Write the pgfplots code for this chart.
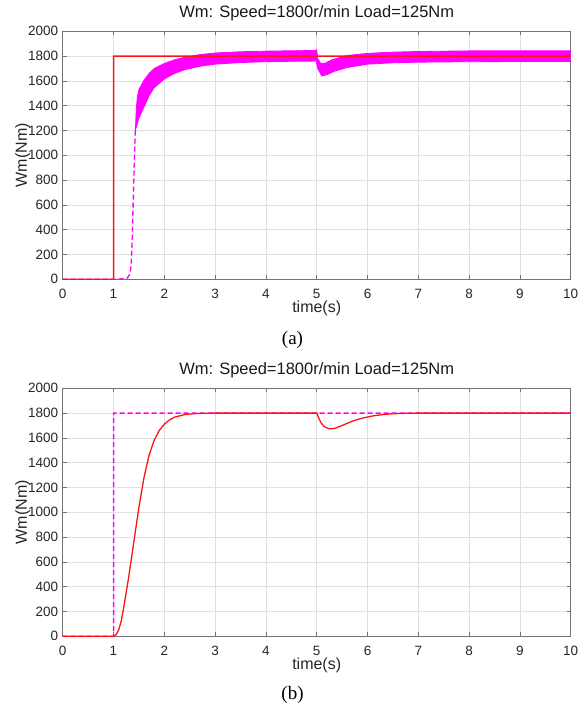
\documentclass[border=0pt]{standalone}
\usepackage{fontspec}
\setmainfont{Liberation Sans}
\newfontfamily\capfont{Liberation Serif}
\usepackage{pgfplots}
\pgfplotsset{compat=1.18}

\definecolor{mred}{RGB}{255,20,20}
\definecolor{mmag}{RGB}{255,0,255}

\pgfplotsset{
  matlab/.style={
    scale only axis,
    width=508pt, height=248pt,
    xmin=0, xmax=10, ymin=0, ymax=2000,
    xtick={0,1,...,10}, ytick={0,200,...,2000},
    grid=major, major grid style={black!12, line width=0.6pt},
    axis line style={black!55, line width=0.7pt},
    tick align=inside, major tick length=4pt,
    tick style={black!55, line width=0.6pt},
    /pgf/number format/assume math mode=true,
    /pgf/number format/set thousands separator={},
    tick label style={font=\fontsize{13.5}{15}\selectfont, text=black!85},
    xticklabel style={anchor=base, yshift=-19pt},
    yticklabel style={anchor=east, xshift=-1pt},
    label style={font=\fontsize{16}{18}\selectfont, text=black!85},
    xlabel style={at={(axis description cs:0.5,0)}, anchor=base, yshift=-33.5pt},
    ylabel style={at={(axis description cs:-0.0787,0.5)}, anchor=center},
    title style={at={(axis description cs:0.5,1)}, anchor=base, yshift=8pt,
      font=\fontsize{16.5}{18}\selectfont, text=black!90},
    xlabel={time(s)}, ylabel={Wm(Nm)},
    title={Wm: Speed=1800r/min Load=125Nm},
  }
}

\begin{document}
\begin{tikzpicture}
\useasboundingbox (0,0) rectangle (585pt,-703pt);

% (a)
\begin{axis}[matlab, at={(62.7pt,-279.3pt)}, anchor=south west]
\addplot[mmag, line width=1.4pt, dash pattern=on 5pt off 3pt] coordinates {
  (0,0)(1,0)(1.1,2)(1.2,5)(1.27,10)(1.32,40)(1.35,120)(1.37,350)
  (1.39,650)(1.41,950)(1.43,1200)};
% oscillation band: upper edge forward, lower edge back
\addplot[draw=mmag, fill=mmag, line width=0.8pt] coordinates {
  (1.43,1200)(1.45,1380)(1.47,1470)(1.5,1530)(1.6,1605)(1.7,1660)
  (1.8,1700)(2.0,1740)(2.2,1770)(2.4,1790)(2.7,1812)(3.0,1825)
  (3.5,1835)(4.0,1840)(4.5,1843)(4.99,1845)(5.0,1850)(5.02,1780)
  (5.08,1740)(5.15,1740)(5.3,1770)(5.6,1805)(6.0,1822)(6.5,1832)
  (7.0,1837)(8.0,1842)(10,1843)
  (10,1757)(8.0,1755)(7.0,1751)(6.5,1746)(6.0,1735)(5.6,1708)
  (5.35,1678)(5.2,1650)(5.1,1640)(5.02,1700)(4.99,1760)(4.5,1758)
  (4.0,1755)(3.5,1748)(3.0,1735)(2.7,1718)(2.4,1690)(2.2,1660)
  (2.0,1615)(1.8,1545)(1.7,1480)(1.6,1390)(1.5,1300)} -- cycle;
\addplot[mred, line width=1.5pt] coordinates {
  (0,0)(1,0)(1.001,1800)(10,1800)};
\end{axis}

% (b)
\begin{axis}[matlab, at={(62.7pt,-636.3pt)}, anchor=south west]
\addplot[mmag, line width=1.5pt, dash pattern=on 5pt off 3pt] coordinates {
  (0,0)(1,0)(1.001,1800)(10,1800)};
\addplot[mred, line width=1.3pt] coordinates {
  (0,0)(1,0)(1.05,12)(1.1,50)(1.15,120)(1.2,230)(1.3,480)(1.4,760)
  (1.5,1040)(1.6,1280)(1.7,1460)(1.8,1580)(1.9,1660)(2.0,1710)
  (2.1,1745)(2.2,1767)(2.4,1788)(2.6,1796)(2.8,1799)(3,1800)(5,1800)
  (5.03,1770)(5.08,1725)(5.15,1690)(5.25,1673)(5.35,1676)(5.5,1700)
  (5.7,1735)(5.9,1760)(6.1,1777)(6.3,1788)(6.5,1795)(6.8,1799)
  (7,1800)(10,1800)};
\end{axis}

\node[anchor=base, font=\capfont\fontsize{19}{21}\selectfont] at (292.5pt,-344pt) {(a)};
\node[anchor=base, font=\capfont\fontsize{19}{21}\selectfont] at (292.5pt,-699pt) {(b)};
\end{tikzpicture}
\end{document}
